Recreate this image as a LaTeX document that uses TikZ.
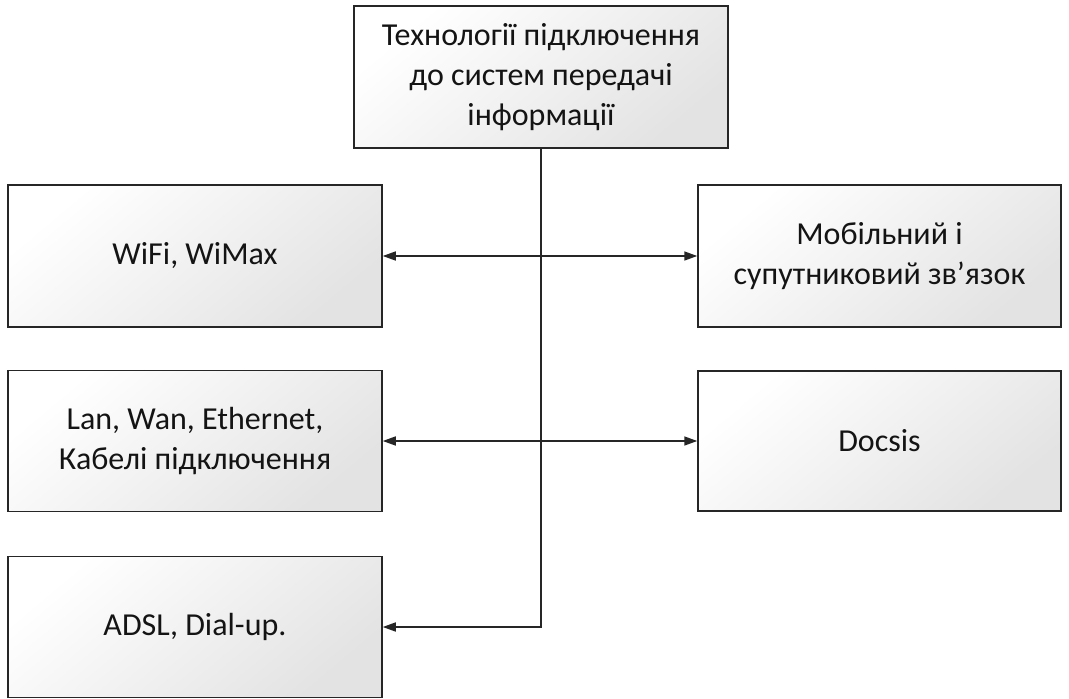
\documentclass[tikz,border=0pt]{standalone}
\usepackage{fontspec}
\setmainfont{Carlito}
\usetikzlibrary{arrows.meta}
\begin{document}
\begin{tikzpicture}[x=1pt,y=-1pt,
  techbox/.style={draw=black!85, line width=1.5pt, rectangle,
    left color=white, right color=black!11, shading angle=40,
    minimum height=142pt, align=center, inner sep=0pt,
    font=\fontsize{32}{40}\selectfont, text=black!92},
  link/.style={draw=black!85, line width=1.6pt},
  tip/.style={-{Triangle[length=13pt,width=9pt]}},
  bitip/.style={{Triangle[length=13pt,width=9pt]}-{Triangle[length=13pt,width=9pt]}}]
\useasboundingbox (0,0) rectangle (1069,699);
\fill[white] (0,0) rectangle (1069,699);

\node[techbox, minimum width=374pt] (top) at (541,77)
  {Технології підключення\\до систем передачі\\інформації};
\node[techbox, minimum width=374pt] (l1) at (195,256) {WiFi, WiMax};
\node[techbox, minimum width=374pt, minimum height=141pt] (l2) at (195,441)
  {Lan, Wan, Ethernet,\\Кабелі підключення};
\node[techbox, minimum width=374pt, minimum height=141pt] (l3) at (195,627) {ADSL, Dial-up.};
\node[techbox, minimum width=363pt] (r1) at (879.5,256) {Мобільний і\\супутниковий зв’язок};
\node[techbox, minimum width=363pt, minimum height=140pt] (r2) at (879.5,441) {Docsis};

% trunk from the top box down to the lowest branch
\draw[link, tip] (top.south) -- (top.south |- l3.east) -- (l3.east);
% two-way branches
\draw[link, bitip] (l1.east) -- (r1.west);
\draw[link, bitip] (l2.east) -- (r2.west);
\end{tikzpicture}
\end{document}
